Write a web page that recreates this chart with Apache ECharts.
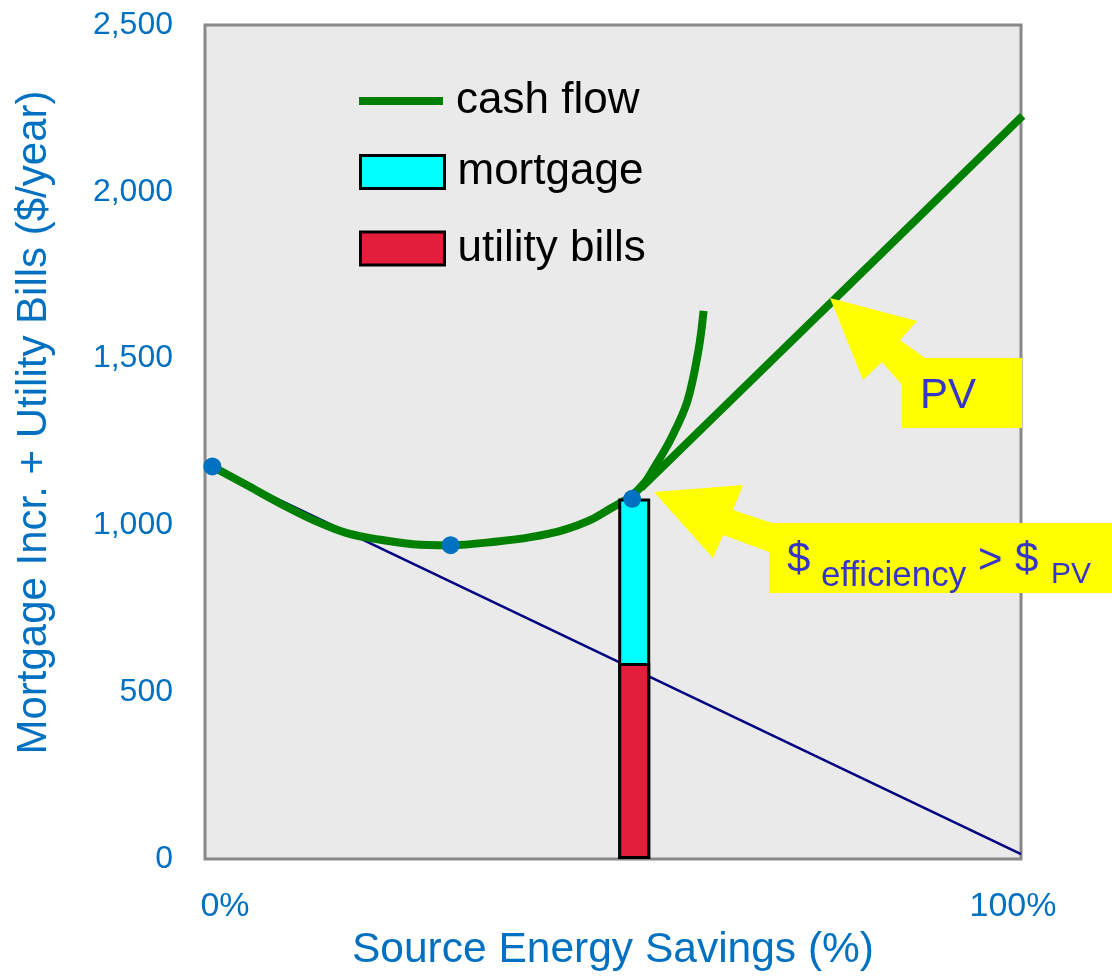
<!DOCTYPE html>
<html>
<head>
<meta charset="utf-8">
<script src="https://cdn.jsdelivr.net/npm/echarts@6/dist/echarts.min.js"></script>
<style>
html,body{margin:0;padding:0;background:#fff;}
#chart{width:1112px;height:977px;}
</style>
</head>
<body>
<div id="chart"></div>
<script>
// ---- data ----
const xTickLabels = ['0%', '100%'];
const yTickValues = [0, 500, 1000, 1500, 2000, 2500];
const cashFlowPoints = [
  [0.9, 1177], [5.1, 1121], [9.2, 1066], [13.3, 1016], [17.4, 977], [21.5, 957],
  [25.5, 944], [30.1, 941], [35.8, 952], [39.9, 965], [44.0, 987], [47.2, 1016],
  [49.7, 1051], [52.15, 1087], [53.8, 1126], [55.0, 1171], [57.1, 1260],
  [59.1, 1371], [60.5, 1529], [61.1, 1643]
];
const pvPoints = [[53.4, 1112], [100.2, 2228]];
const baselinePoints = [[0, 1183], [100, 15]];
const markerPoints = [[0.9, 1177], [30.1, 941], [52.35, 1080]];
const barX = [52.6];
const utilityBills = [588];
const mortgage = [493];

const FONT = "'Liberation Sans', Arial, sans-serif";
const BLUE = '#0070C0';
const TXT = '#3535C8';

const chart = echarts.init(document.getElementById('chart'), null, {renderer: 'canvas'});

function legendCfg(item, top, iconH, padTop, extra) {
  return Object.assign({
    data: [item],
    orient: 'vertical',
    left: 359,
    top: top,
    padding: 0,
    itemWidth: 84,
    itemHeight: iconH,
    selectedMode: false,
    textStyle: {fontSize: 44, color: '#000', fontFamily: FONT, padding: [padTop, 0, 0, 8]}
  }, extra);
}

const option = {
  animation: false,
  backgroundColor: '#fff',
  grid: {
    left: 205, right: 91, top: 25, bottom: 114,
    show: true, backgroundColor: '#EAEAEA', borderColor: '#888', borderWidth: 3
  },
  legend: [
    legendCfg({name: 'cash flow', icon: 'rect', itemStyle: {color: '#008000', borderWidth: 0}}, 79, 8, 0, {}),
    legendCfg({name: 'mortgage', icon: 'rect'}, 150, 33, 6, {itemStyle: {borderColor: '#000', borderWidth: 3}}),
    legendCfg({name: 'utility bills', icon: 'rect'}, 226.5, 33, 2, {itemStyle: {borderColor: '#000', borderWidth: 3}})
  ],
  xAxis: {
    type: 'value', min: 0, max: 100, interval: 100,
    axisLine: {show: false}, axisTick: {show: false}, splitLine: {show: false},
    axisLabel: {
      margin: 31, fontSize: 34, color: BLUE, fontFamily: FONT,
      formatter: v => v === 0 ? '{l|' + xTickLabels[0] + '}' : '{r|' + xTickLabels[1] + '}',
      rich: {
        l: {fontSize: 34, color: BLUE, fontFamily: FONT, padding: [0, 0, 0, 40]},
        r: {fontSize: 34, color: BLUE, fontFamily: FONT, padding: [0, 16, 0, 0]}
      }
    },
    name: 'Source Energy Savings (%)', nameLocation: 'middle', nameGap: 69,
    nameTextStyle: {fontSize: 42.5, color: BLUE, fontFamily: FONT}
  },
  yAxis: {
    type: 'value', min: yTickValues[0], max: yTickValues[yTickValues.length - 1], interval: 500,
    axisLine: {show: false}, axisTick: {show: false}, splitLine: {show: false},
    axisLabel: {
      margin: 32, fontSize: 32, color: BLUE, fontFamily: FONT,
      formatter: v => v.toLocaleString('en-US')
    },
    name: 'Mortgage Incr. + Utility Bills ($/year)', nameLocation: 'middle', nameGap: 150,
    nameTextStyle: {fontSize: 42, color: BLUE, fontFamily: FONT, padding: [0, 0, 0, 39]}
  },
  series: [
    {
      name: 'baseline', type: 'line', data: baselinePoints, symbol: 'none', z: 1,
      lineStyle: {color: '#000080', width: 2.5}
    },
    {
      name: 'cash flow', type: 'line', data: cashFlowPoints, symbol: 'none', smooth: 0.35, z: 2,
      lineStyle: {color: '#008000', width: 8}, itemStyle: {color: '#008000'}
    },
    {
      name: 'pv', type: 'line', data: pvPoints, symbol: 'none', z: 2, clip: false,
      lineStyle: {color: '#008000', width: 8}
    },
    {
      name: 'mortgage', type: 'bar', barWidth: 32, barGap: '-100%', z: 3,
      data: barX.map((x, i) => [x, utilityBills[i] + mortgage[i]]),
      itemStyle: {color: '#00FFFF', borderColor: '#000', borderWidth: 3}
    },
    {
      name: 'utility bills', type: 'bar', barWidth: 32, barGap: '-100%', z: 4,
      data: barX.map((x, i) => [x, utilityBills[i]]),
      itemStyle: {color: '#E21E3C', borderColor: '#000', borderWidth: 3}
    },
    {
      name: 'points', type: 'scatter', data: markerPoints, symbolSize: 18, z: 5,
      itemStyle: {color: BLUE, opacity: 1}
    }
  ],
  graphic: [
    // PV callout
    {type: 'polygon', z: 100, shape: {points: [[830,298],[917,321],[900,340],[925,358],[902,385],[882,362],[863,380]]}, style: {fill: '#FFFF00'}},
    {type: 'rect', z: 100, shape: {x: 902, y: 358, width: 120, height: 70}, style: {fill: '#FFFF00'}},
    {type: 'text', z: 101, x: 920, y: 396, style: {text: 'PV', fontSize: 42, fontFamily: FONT, fill: TXT, verticalAlign: 'middle', align: 'left'}},
    // efficiency callout
    {type: 'polygon', z: 100, shape: {points: [[654,492],[743,485],[733,510],[772,523],[772,553],[723,535],[713,558]]}, style: {fill: '#FFFF00'}},
    {type: 'rect', z: 100, shape: {x: 769, y: 523, width: 343, height: 70}, style: {fill: '#FFFF00'}},
    {type: 'text', z: 101, x: 787, y: 560, style: {text: '$', fontSize: 42, fontFamily: FONT, fill: TXT, verticalAlign: 'middle', align: 'left'}},
    {type: 'text', z: 101, x: 821, y: 576, style: {text: 'efficiency', fontSize: 35, fontFamily: FONT, fill: TXT, verticalAlign: 'middle', align: 'left'}},
    {type: 'text', z: 101, x: 978, y: 561, style: {text: '>', fontSize: 42, fontFamily: FONT, fill: TXT, verticalAlign: 'middle', align: 'left'}},
    {type: 'text', z: 101, x: 1015, y: 560, style: {text: '$', fontSize: 42, fontFamily: FONT, fill: TXT, verticalAlign: 'middle', align: 'left'}},
    {type: 'text', z: 101, x: 1051, y: 575, style: {text: 'PV', fontSize: 30, fontFamily: FONT, fill: TXT, verticalAlign: 'middle', align: 'left'}}
  ]
};
chart.setOption(option);
</script>
</body>
</html>
